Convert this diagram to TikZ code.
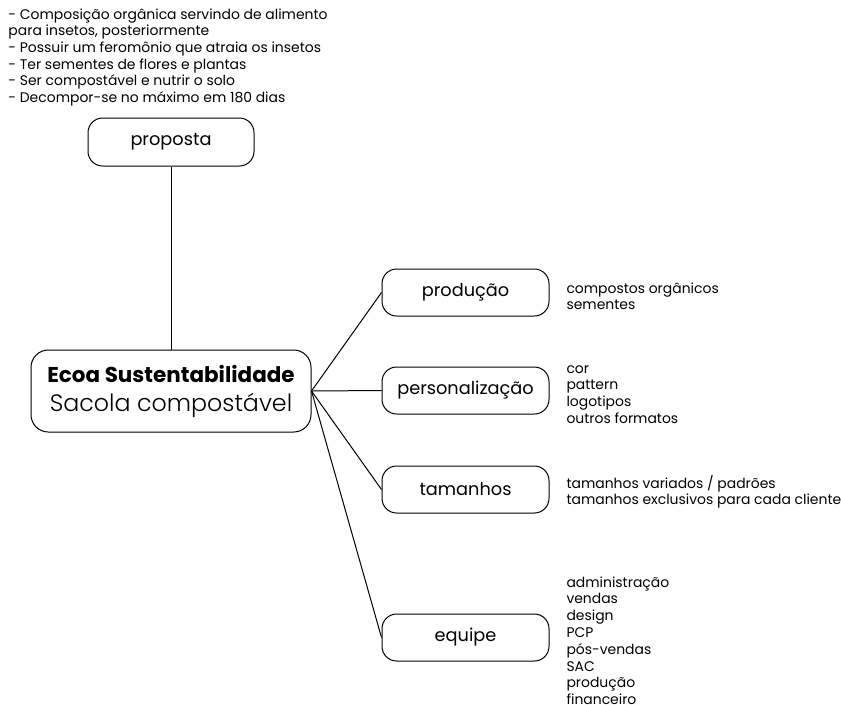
\documentclass[tikz,border=0pt]{standalone}
\usepackage{fontspec}
\setmainfont{Poppins}
\newfontfamily\leve{Poppins Light}
\usetikzlibrary{positioning}

\begin{document}
\begin{tikzpicture}[x=0.75pt,y=-0.75pt,line width=.75pt,
  caixa/.style={draw,rounded corners=11pt,minimum width=125.25pt,minimum height=35.25pt,inner sep=0pt,font=\fontsize{13.3}{16}\selectfont},
  item/.style={anchor=base west,inner sep=0pt,font=\fontsize{10.45}{12}\selectfont}]
\useasboundingbox (0,0) rectangle (841,704);
% texto do topo
\foreach \t [count=\i from 0] in {- Composição orgânica servindo de alimento,{para insetos, posteriormente},- Possuir um feromônio que atraia os insetos,- Ter sementes de flores e plantas,- Ser compostável e nutrir o solo,- Decompor-se no máximo em 180 dias}
  \node[item] (topo\i) at (8,{19+16.7*\i}) {\t};
% caixas
\node[caixa,minimum width=124.5pt,minimum height=36pt] (proposta) at (171,142) {proposta};
\node[draw,rounded corners=13pt,minimum width=210pt,minimum height=61.5pt,align=center,
  font=\fontsize{17.8}{21.75}\selectfont] (ecoa) at (171,391)
  {{\fontsize{16.1}{21.75}\selectfont\bfseries Ecoa Sustentabilidade}\\ {\leve Sacola compostável}};
\node[caixa] (producao) at (465.5,292.5) {produção};
\node[caixa] (perso) at (465.5,390.5) {personalização};
\node[caixa] (tam) at (465.5,489.5) {tamanhos};
\node[caixa] (equipe) at (465.5,637.5) {equipe};
% ligações
\draw (proposta.south) -- (ecoa.north);
\foreach \n in {producao,perso,tam,equipe}
  \draw (ecoa.east) -- (\n.west);
% listas
\foreach \t [count=\i from 0] in {compostos orgânicos,sementes}
  \node[item] (prod\i) at (566,{293+16.7*\i}) {\t};
\foreach \t [count=\i from 0] in {cor,pattern,logotipos,outros formatos}
  \node[item] (pers\i) at (566,{373+16.7*\i}) {\t};
\foreach \t [count=\i from 0] in {tamanhos variados / padrões,tamanhos exclusivos para cada cliente}
  \node[item] (tam\i) at (566,{488+16.7*\i}) {\t};
\foreach \t [count=\i from 0] in {administração,vendas,design,PCP,pós-vendas,SAC,produção,financeiro}
  \node[item] (eq\i) at (566,{587+16.8*\i}) {\t};
\end{tikzpicture}
\end{document}
